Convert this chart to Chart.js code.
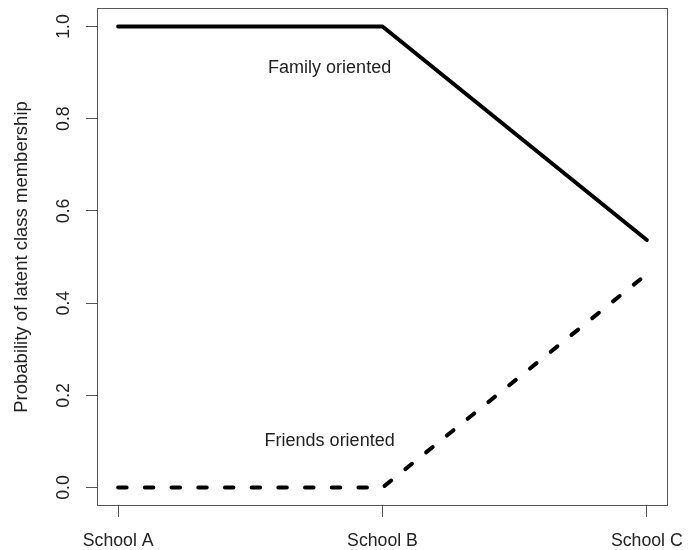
<!DOCTYPE html>
<html>
<head>
<meta charset="utf-8">
<script src="https://cdn.jsdelivr.net/npm/chart.js@4/dist/chart.umd.min.js"></script>
<style>
  html, body { margin: 0; padding: 0; background: #fff; }
  #wrap { width: 696px; height: 550px; position: relative; }
</style>
</head>
<body>
<div id="wrap"><canvas id="chart"></canvas></div>
<script>
// data
const schools = ['School A', 'School B', 'School C'];
const schoolPos = [1, 2, 3];
const familyOriented = [1.0, 1.0, 0.537];
const friendsOriented = [0.0, 0.0, 0.463];
const yTicks = [0.0, 0.2, 0.4, 0.6, 0.8, 1.0];

// curve labels: text and where they sit (in data units)
const curveLabels = ['Family oriented', 'Friends oriented'];
const curveLabelX = [1.8, 1.8];
const curveLabelY = [0.91, 0.10];

const FONT = "Arial, 'Liberation Sans', sans-serif";
const TEXT = '#222';
const AXIS = '#555';

// R-style box around the plot region
const boxPlugin = {
    id: 'box',
    afterDraw(chart) {
        const { ctx, chartArea: a } = chart;
        ctx.save();
        ctx.strokeStyle = AXIS;
        ctx.lineWidth = 1;
        ctx.strokeRect(a.left + 0.5, a.top + 0.5, a.right - a.left - 1, a.bottom - a.top - 1);
        ctx.restore();
    }
};

// text labels next to the curves
const labelPlugin = {
    id: 'curveLabels',
    afterDatasetsDraw(chart) {
        const { ctx, scales } = chart;
        ctx.save();
        ctx.font = '18px ' + FONT;
        ctx.fillStyle = TEXT;
        ctx.textAlign = 'center';
        ctx.textBaseline = 'middle';
        curveLabels.forEach((txt, i) => {
            ctx.fillText(txt, scales.x.getPixelForValue(curveLabelX[i]), scales.y.getPixelForValue(curveLabelY[i]));
        });
        ctx.restore();
    }
};

new Chart(document.getElementById('chart'), {
    type: 'line',
    data: {
        datasets: [
            {
                label: 'Family oriented',
                data: schoolPos.map((x, i) => ({ x, y: familyOriented[i] })),
                borderColor: '#000',
                borderWidth: 4,
                borderCapStyle: 'round',
                borderJoinStyle: 'round',
                pointRadius: 0,
                fill: false
            },
            {
                label: 'Friends oriented',
                data: schoolPos.map((x, i) => ({ x, y: friendsOriented[i] })),
                borderColor: '#000',
                borderWidth: 4,
                borderDash: [8.5, 18.2],
                borderCapStyle: 'round',
                borderJoinStyle: 'round',
                pointRadius: 0,
                fill: false
            }
        ]
    },
    options: {
        responsive: true,
        maintainAspectRatio: false,
        animation: false,
        layout: { padding: { top: 8, right: 28, left: 0, bottom: 0 } },
        plugins: {
            legend: { display: false },
            tooltip: { enabled: false }
        },
        scales: {
            x: {
                type: 'linear',
                min: 0.92,
                max: 3.08,
                afterBuildTicks: s => { s.ticks = schoolPos.map(v => ({ value: v })); },
                afterFit: s => { s.height = 44; s.paddingLeft = 0; s.paddingRight = 0; },
                ticks: {
                    callback: v => schools[schoolPos.indexOf(v)] || '',
                    font: { family: FONT, size: 17.7 },
                    color: TEXT,
                    padding: 13,
                    maxRotation: 0,
                    autoSkip: false
                },
                grid: { drawOnChartArea: false, tickLength: 11, tickColor: AXIS, tickWidth: 1 },
                border: { display: false }
            },
            y: {
                type: 'linear',
                min: -0.04,
                max: 1.04,
                afterBuildTicks: s => { s.ticks = yTicks.map(v => ({ value: v })); },
                afterFit: s => { s.width = 97; s.paddingTop = 0; s.paddingBottom = 0; },
                ticks: {
                    callback: v => v.toFixed(1),
                    font: { family: FONT, size: 17.7 },
                    color: TEXT,
                    padding: 10,
                    minRotation: 90,
                    maxRotation: 90,
                    crossAlign: 'center'
                },
                title: {
                    display: true,
                    text: 'Probability of latent class membership',
                    font: { family: FONT, size: 18.5 },
                    color: TEXT,
                    padding: { top: 11, bottom: 0 }
                },
                grid: { drawOnChartArea: false, tickLength: 11, tickColor: AXIS, tickWidth: 1 },
                border: { display: false }
            }
        }
    },
    plugins: [boxPlugin, labelPlugin]
});
</script>
</body>
</html>
